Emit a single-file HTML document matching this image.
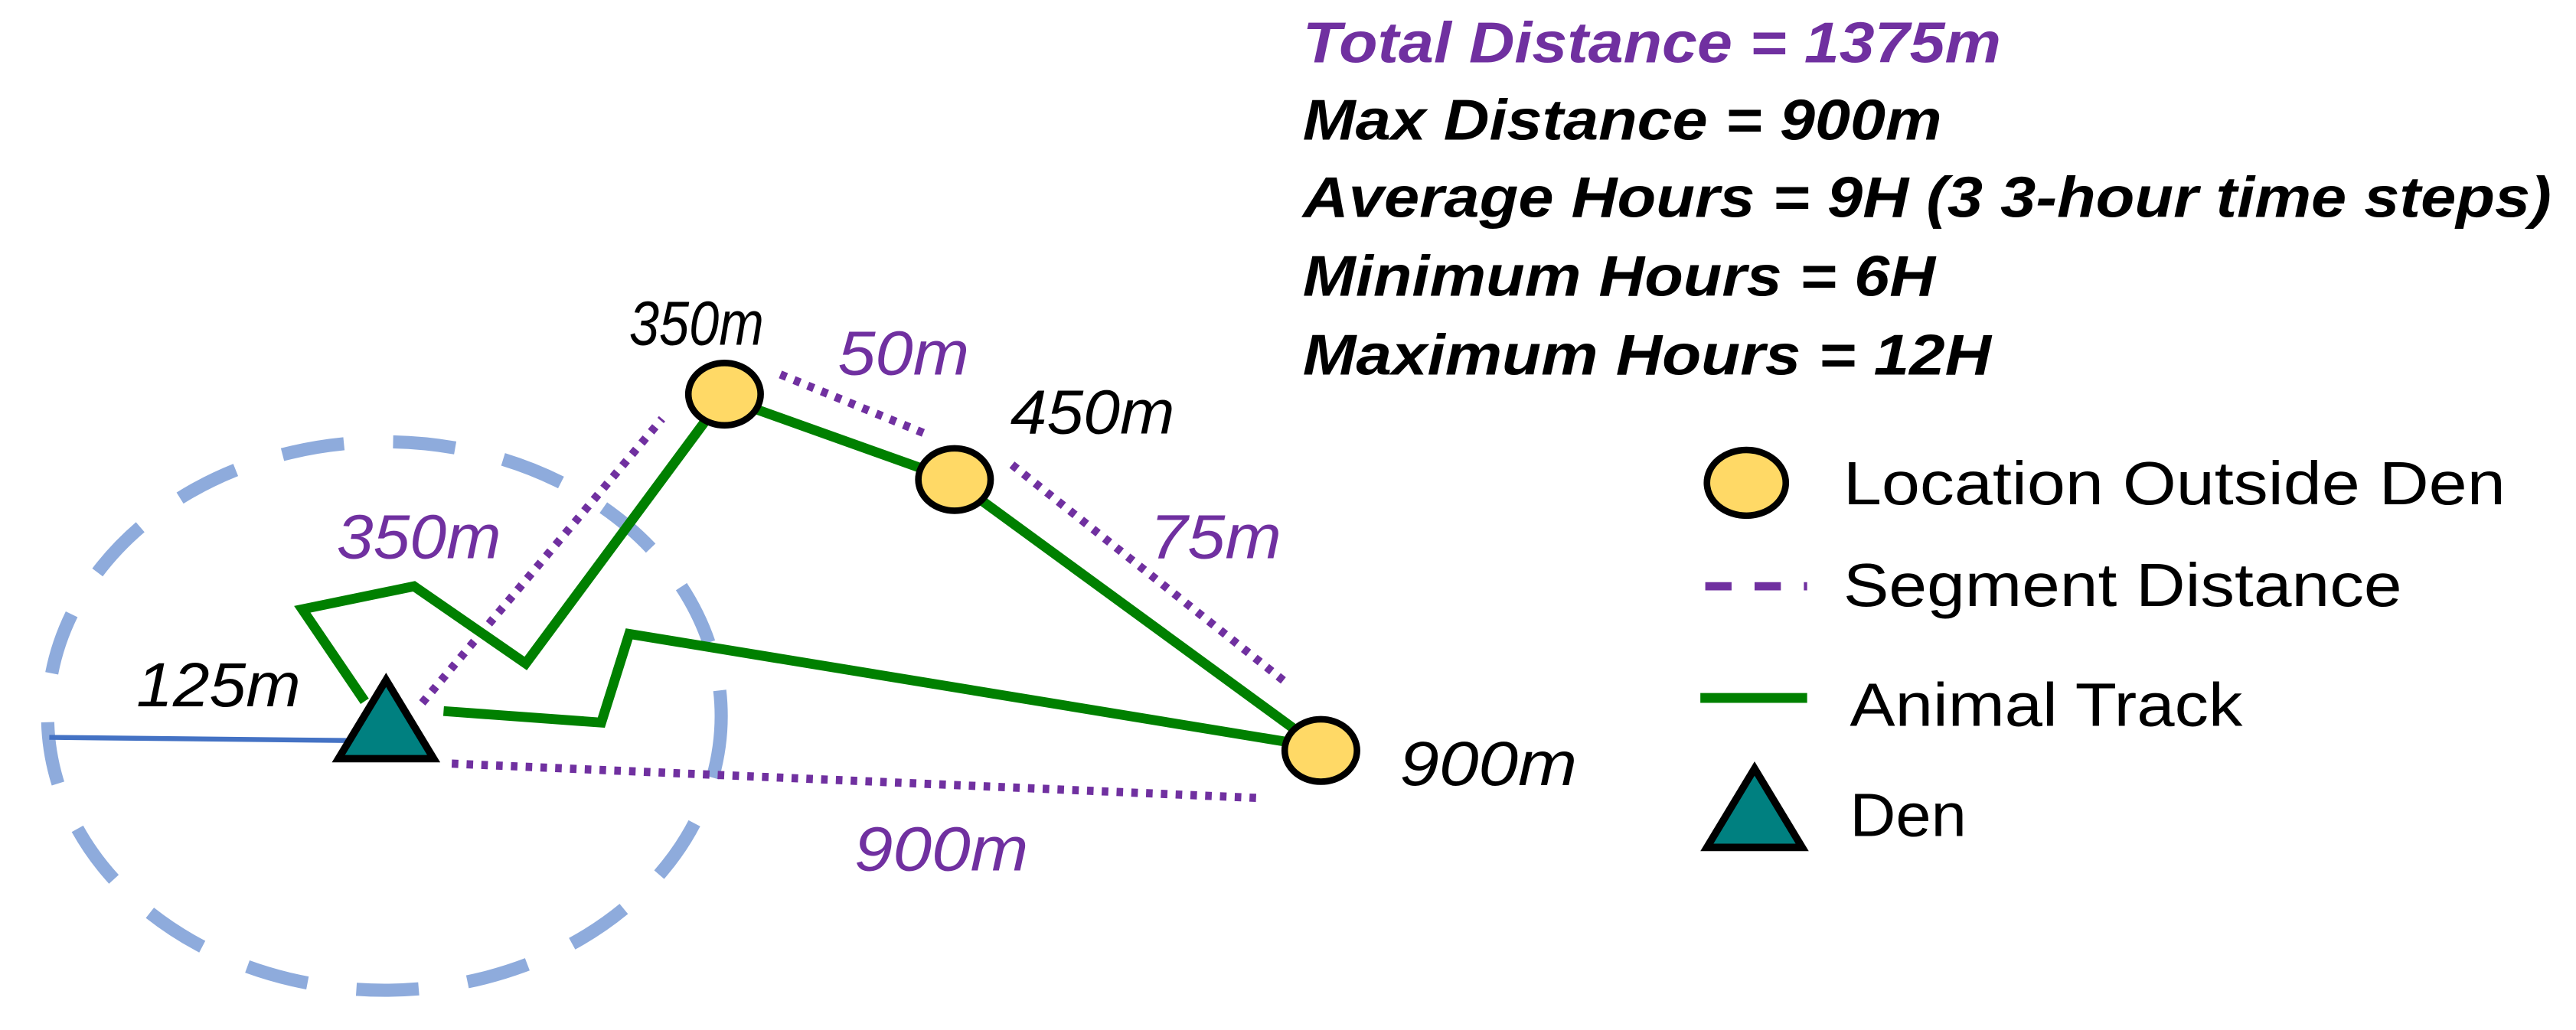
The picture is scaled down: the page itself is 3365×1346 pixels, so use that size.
<!DOCTYPE html>
<html><head><meta charset="utf-8"><style>
html,body{margin:0;padding:0;background:#fff;}
svg{display:block;}
</style></head><body>
<svg width="3365" height="1346" viewBox="0 0 1568 627.2" preserveAspectRatio="none" xmlns="http://www.w3.org/2000/svg">
<g>
<ellipse cx="234" cy="436" rx="205" ry="167" fill="none" stroke="#8eabdc" stroke-width="8" stroke-dasharray="38 30"/>
</g>
<line x1="30" y1="449" x2="220" y2="451" stroke="#4472c4" stroke-width="3"/>
<g stroke="#7030a0" stroke-width="5" stroke-dasharray="4 5" fill="none">
<line x1="257" y1="428" x2="403" y2="255"/>
<line x1="475" y1="228" x2="563" y2="264"/>
<line x1="616" y1="283" x2="782" y2="415"/>
<line x1="275" y1="465" x2="768" y2="486"/>
</g>
<polyline points="222,427 184,371 252,357 320,404 440,242 580,292 803,455 383,386 366,440 270,433" fill="none" stroke="#008000" stroke-width="6" stroke-linejoin="miter"/>
<polygon points="235,414 206,462 264,462" fill="#008080" stroke="#000" stroke-width="4.5"/>
<ellipse cx="441" cy="240" rx="22" ry="19" fill="#ffd966" stroke="#000" stroke-width="4"/>
<ellipse cx="581" cy="292" rx="22" ry="19" fill="#ffd966" stroke="#000" stroke-width="4"/>
<ellipse cx="804" cy="457" rx="22" ry="19" fill="#ffd966" stroke="#000" stroke-width="4"/>
<g font-family="'Liberation Sans', sans-serif" font-style="italic" font-size="38">
<text x="383" y="210" fill="#000" textLength="82" lengthAdjust="spacingAndGlyphs">350m</text>
<text x="510" y="228" fill="#7030a0" textLength="80" lengthAdjust="spacingAndGlyphs">50m</text>
<text x="615" y="264" fill="#000" textLength="100" lengthAdjust="spacingAndGlyphs">450m</text>
<text x="700" y="340" fill="#7030a0" textLength="80" lengthAdjust="spacingAndGlyphs">75m</text>
<text x="205" y="340" fill="#7030a0" textLength="100" lengthAdjust="spacingAndGlyphs">350m</text>
<text x="83" y="430" fill="#000" textLength="100" lengthAdjust="spacingAndGlyphs">125m</text>
<text x="852" y="478" fill="#000" textLength="108" lengthAdjust="spacingAndGlyphs">900m</text>
<text x="520" y="530" fill="#7030a0" textLength="106" lengthAdjust="spacingAndGlyphs">900m</text>
</g>
<g font-family="'Liberation Sans Narrow','Liberation Sans', sans-serif" font-style="italic" font-weight="bold" font-size="35">
<text x="793" y="38" fill="#7030a0" textLength="425" lengthAdjust="spacingAndGlyphs">Total Distance = 1375m</text>
<text x="793" y="85" fill="#000" textLength="389" lengthAdjust="spacingAndGlyphs">Max Distance = 900m</text>
<text x="793" y="132" fill="#000" textLength="760" lengthAdjust="spacingAndGlyphs">Average Hours = 9H (3 3-hour time steps)</text>
<text x="793" y="180" fill="#000" textLength="385" lengthAdjust="spacingAndGlyphs">Minimum Hours = 6H</text>
<text x="793" y="228" fill="#000" textLength="419" lengthAdjust="spacingAndGlyphs">Maximum Hours = 12H</text>
</g>
<g font-family="'Liberation Sans', sans-serif" font-size="37" fill="#000">
<ellipse cx="1063" cy="294" rx="24" ry="20" fill="#ffd966" stroke="#000" stroke-width="4"/>
<text x="1122" y="307" textLength="403" lengthAdjust="spacingAndGlyphs">Location Outside Den</text>
<line x1="1038" y1="357" x2="1100" y2="357" stroke="#7030a0" stroke-width="5" stroke-dasharray="16 14"/>
<text x="1122" y="369" textLength="340" lengthAdjust="spacingAndGlyphs">Segment Distance</text>
<line x1="1035" y1="425" x2="1100" y2="425" stroke="#008000" stroke-width="6"/>
<text x="1126" y="442" textLength="239" lengthAdjust="spacingAndGlyphs">Animal Track</text>
<polygon points="1068,468 1039,516 1097,516" fill="#008080" stroke="#000" stroke-width="4.5"/>
<text x="1126" y="509" textLength="71" lengthAdjust="spacingAndGlyphs">Den</text>
</g>
</svg>
</body></html>
